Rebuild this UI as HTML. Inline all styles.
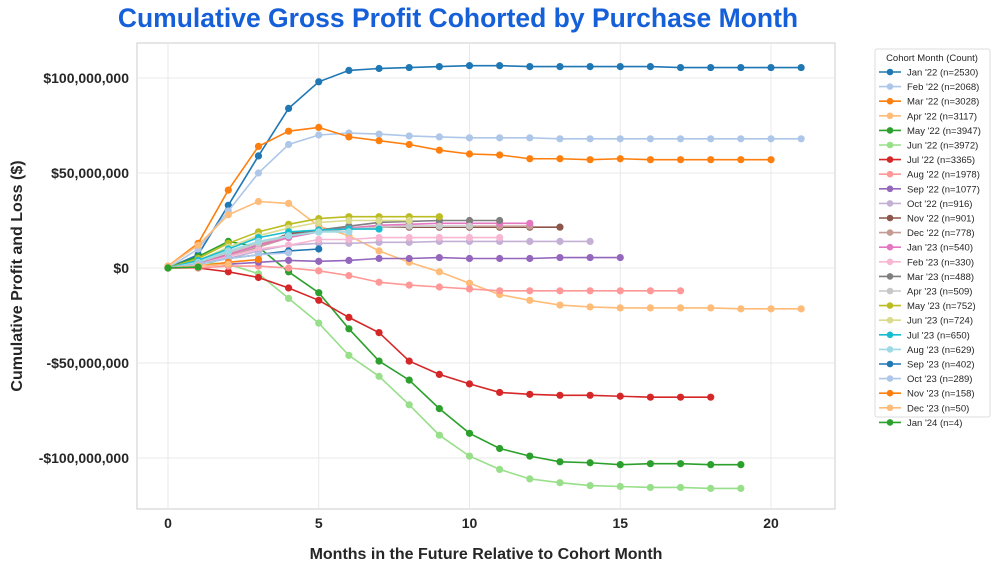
<!DOCTYPE html>
<html><head><meta charset="utf-8">
<style>
body{margin:0;background:#fff;font-family:"Liberation Sans",Arial,sans-serif;}
svg text{font-family:"Liberation Sans",Arial,sans-serif;}
</style></head>
<body>
<svg id="chart" width="996" height="568" xmlns="http://www.w3.org/2000/svg">
<text x="458" y="27" text-anchor="middle" font-size="26.5" font-weight="bold" fill="#1560d9">Cumulative Gross Profit Cohorted by Purchase Month</text>
<rect x="137" y="43" width="698" height="466" fill="#fff" stroke="#ccc"/>
<g id="grid"></g><g id="axes"></g><g id="series"></g><g id="legend"></g>
<text x="486" y="559" text-anchor="middle" font-size="16" font-weight="bold" fill="#262626">Months in the Future Relative to Cohort Month</text>
<text transform="translate(22,276) rotate(-90)" text-anchor="middle" font-size="16" font-weight="bold" fill="#262626">Cumulative Profit and Loss ($)</text>
</svg>
<script>
const cohortLabels=["Jan '22 (n=2530)","Feb '22 (n=2068)","Mar '22 (n=3028)","Apr '22 (n=3117)","May '22 (n=3947)","Jun '22 (n=3972)","Jul '22 (n=3365)","Aug '22 (n=1978)","Sep '22 (n=1077)","Oct '22 (n=916)","Nov '22 (n=901)","Dec '22 (n=778)","Jan '23 (n=540)","Feb '23 (n=330)","Mar '23 (n=488)","Apr '23 (n=509)","May '23 (n=752)","Jun '23 (n=724)","Jul '23 (n=650)","Aug '23 (n=629)","Sep '23 (n=402)","Oct '23 (n=289)","Nov '23 (n=158)","Dec '23 (n=50)","Jan '24 (n=4)"];
const colors=["#1f77b4","#aec7e8","#ff7f0e","#ffbb78","#2ca02c","#98df8a","#d62728","#ff9896","#9467bd","#c5b0d5","#8c564b","#c49c94","#e377c2","#f7b6d2","#7f7f7f","#c7c7c7","#bcbd22","#dbdb8d","#17becf","#9edae5","#1f77b4","#aec7e8","#ff7f0e","#ffbb78","#2ca02c"];
// values in $M, index = months after cohort
const s0=[0,7,33,59,84,98,104,105,105.5,106,106.5,106.5,106,106,106,106,106,105.5,105.5,105.5,105.5,105.5];
const s1=[0,10,30,50,65,70,71,70.5,69.5,69,68.5,68.5,68.5,68,68,68,68,68,68,68,68,68];
const s2=[1,13,41,64,72,74,69,67,65,62,60,59.5,57.5,57.5,57,57.5,57,57,57,57,57];
const s3=[1,12,28,35,34,22,17,9,3,-2,-8,-14,-17,-19.5,-20.5,-21,-21,-21,-21,-21.5,-21.5,-21.5];
const s4=[0,6,14,11,-2,-13,-32,-49,-59,-74,-87,-95,-99,-102,-102.5,-103.5,-103,-103,-103.5,-103.5];
const s5=[0,3,2,-3,-16,-29,-46,-57,-72,-88,-99,-106,-111,-113,-114.5,-115,-115.5,-115.5,-116,-116];
const s6=[0,0,-2,-5,-10.5,-17,-26,-34,-49,-56,-61,-65.5,-66.5,-67,-67,-67.5,-68,-68,-68];
const s7=[0,0,1,1,0,-1.5,-4,-7.5,-9,-10,-11,-12,-12,-12,-12,-12,-12,-12];
const s8=[0,1,2,3,4,3.5,4,5,5,5.5,5,5,5,5.5,5.5,5.5];
const s9=[0,2,5,9,12,13,13,13.5,13.5,14,14,14,14,14,14];
const s10=[0,3,7,12,18,20,21,21.5,21.5,21.5,21.5,21.5,21.5,21.5];
const s11=[0,2,6,11,16,19,20.5,21.5,22,22,22,22,22];
const s12=[0,2,7,12,16,19,21,22.5,23,23.5,23.5,23.5,23.5];
const s13=[0,2,6,10,12,15,15,16,16,16,16,16];
const s14=[0,3,8,13,17,20,22,24,24.5,25,25,25];
const s15=[0,3,8,13,17,19,20.5,21.5,22,22,22];
const s16=[0,5,13,19,23,26,27,27,27,27];
const s17=[0,4,11,17,21,24,25,25,25];
const s18=[0,4,10,16,19,20,20.5,20.5];
const s19=[0,3,9,14,17,19,19];
const s20=[0,2,5,7,9,10];
const s21=[0,2,5,7,8];
const s22=[0,1,3,4.5];
const s23=[0,1,2];
const s24=[0,0.5];
const seriesValues=[s0,s1,s2,s3,s4,s5,s6,s7,s8,s9,s10,s11,s12,s13,s14,s15,s16,s17,s18,s19,s20,s21,s22,s23,s24];
const xTicks=[0,5,10,15,20];
const yTicks=[100,50,0,-50,-100];
const yTickLabels=["$100,000,000","$50,000,000","$0","-$50,000,000","-$100,000,000"];

const NS="http://www.w3.org/2000/svg";
const xs=m=>168+m*30.15;
const ys=v=>268-v*1.9;
function mk(tag,attrs,parent){const e=document.createElementNS(NS,tag);for(const k in attrs)e.setAttribute(k,attrs[k]);parent.appendChild(e);return e;}
const grid=document.getElementById('grid'),axes=document.getElementById('axes'),ser=document.getElementById('series'),leg=document.getElementById('legend');
xTicks.forEach(t=>{
 const l=mk('line',{x1:xs(t),x2:xs(t),y1:43,y2:509,stroke:'#e8e8e8'},grid);
 
 
 const tx=mk('text',{x:xs(t),y:528,'text-anchor':'middle','font-size':14,'font-weight':'bold',fill:'#262626'},axes);
 tx.textContent=t;
 
 
});
yTicks.forEach((t,i)=>{
 const l=mk('line',{x1:137,x2:835,y1:ys(t),y2:ys(t),stroke:'#e8e8e8'},grid);
 
 
 const tx=mk('text',{x:129,y:ys(t)+5,'text-anchor':'end','font-size':14,'font-weight':'bold',fill:'#262626'},axes);
 tx.textContent=yTickLabels[i];
 
 
});
seriesValues.forEach((vals,i)=>{
 const g=mk('g',{},ser);
 
 
 mk('polyline',{points:vals.map((v,m)=>xs(m)+','+ys(v)).join(' '),fill:'none',stroke:colors[i],'stroke-width':1.6},g);
 vals.forEach((v,m)=>{
  const c=mk('circle',{cx:xs(m),cy:ys(v),r:3.6,fill:colors[i]},g);
  
  
 });
});
const box=mk('rect',{x:875,y:49,width:115,height:368,fill:'#fff',stroke:'#ddd',rx:2},leg);


const lt=mk('text',{x:932,y:61,'text-anchor':'middle','font-size':9.5,fill:'#262626'},leg);
lt.textContent='Cohort Month (Count)';


cohortLabels.forEach((lab,i)=>{
 const y=72+i*14.6;
 const g=mk('g',{},leg);
 
 
 mk('line',{x1:879,x2:901,y1:y,y2:y,stroke:colors[i],'stroke-width':1.6},g);
 mk('circle',{cx:890,cy:y,r:3.3,fill:colors[i]},g);
 const t=mk('text',{x:907,y:y+3.5,'font-size':9.5,fill:'#262626'},g);
 t.textContent=lab;
});
</script>
</body></html>
